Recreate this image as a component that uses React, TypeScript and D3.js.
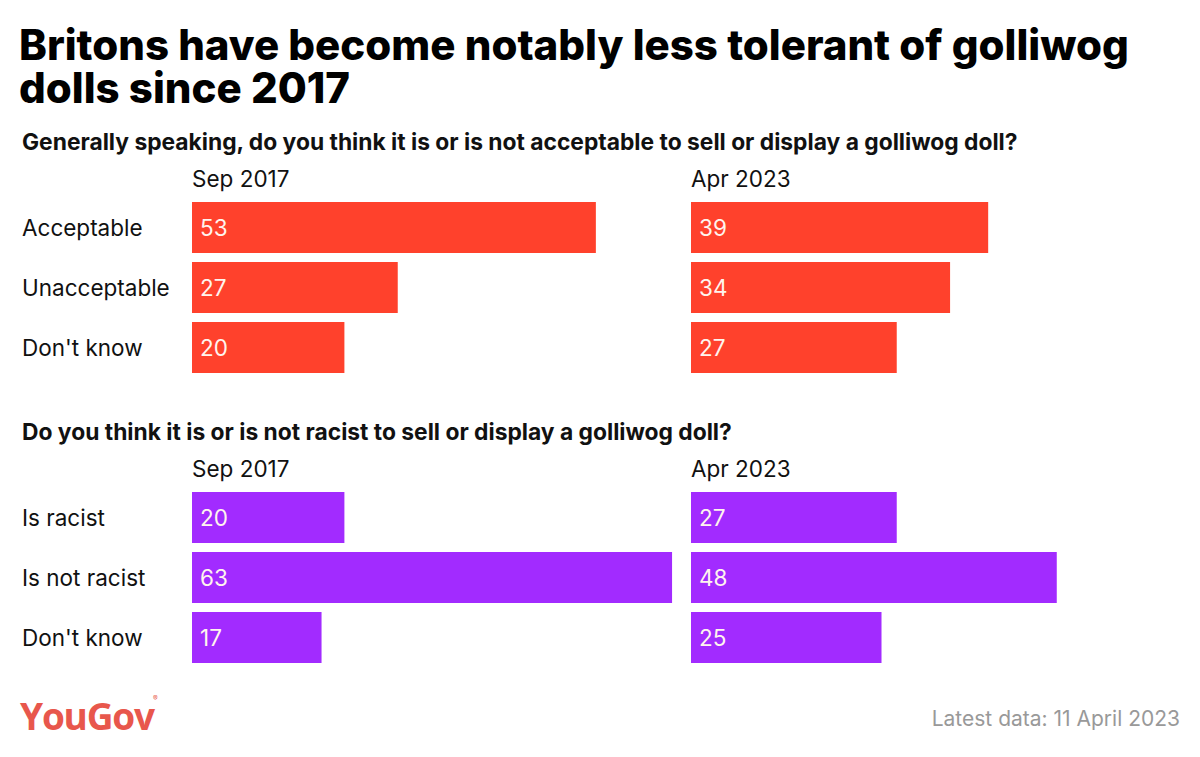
import React from "react";
import * as d3 from "d3";

const categoriesA = ["Acceptable", "Unacceptable", "Don't know"];
const sep2017A = [53, 27, 20];
const apr2023A = [39, 34, 27];
const categoriesB = ["Is racist", "Is not racist", "Don't know"];
const sep2017B = [20, 63, 17];
const apr2023B = [27, 48, 25];
const periods = ["Sep 2017", "Apr 2023"];

const title1 = "Britons have become notably less tolerant of golliwog";
const title2 = "dolls since 2017";
const subtitleA = "Generally speaking, do you think it is or is not acceptable to sell or display a golliwog doll?";
const subtitleB = "Do you think it is or is not racist to sell or display a golliwog doll?";
const footer = "Latest data: 11 April 2023";

const RED = "#FF412C";
const PURPLE = "#A22BFF";
const FONT = "Inter, 'Open Sans', sans-serif";

const x = d3.scaleLinear().domain([0, 100]).range([0, 762]);
const panelX = d3.scaleOrdinal<string, number>().domain(periods).range([192, 691]);

function Block({ top, subtitle, cats, vals, color }: { top: number; subtitle: string; cats: string[]; vals: number[][]; color: string }) {
  const y = d3.scaleBand().domain(cats).range([top + 47.5, top + 227.5]).paddingInner(0.15).paddingOuter(0.075);
  return (
    <g>
      <text x={22} y={top} fontFamily={FONT} fontWeight={700} fontSize={22.8} fill="#111">{subtitle}</text>
      {periods.map((p) => (
        <text key={p} x={panelX(p)} y={top + 37} fontFamily={FONT} fontSize={22.5} fill="#111">{p}</text>
      ))}
      {cats.map((c) => (
        <text key={c} x={22} y={(y(c) as number) + y.bandwidth() / 2 + 8} fontFamily={FONT} fontSize={22.5} fill="#111">{c}</text>
      ))}
      {periods.map((p, pi) =>
        cats.map((c, ci) => (
          <g key={p + c}>
            <rect x={panelX(p)} y={y(c)} width={x(vals[pi][ci])} height={y.bandwidth()} fill={color} />
            <text x={panelX(p) + 8} y={(y(c) as number) + y.bandwidth() / 2 + 8} fontFamily={FONT} fontSize={22.5} fill="#FFF4EE">{vals[pi][ci]}</text>
          </g>
        ))
      )}
    </g>
  );
}

export default function App() {
  return (
    <svg width={1200} height={757} style={{ position: "absolute", left: 0, top: 0, background: "#fff" }}>
      <rect width={1200} height={757} fill="#fff" />
      <text fontFamily={FONT} fontWeight={800} fontSize={42} fill="#000">
        <tspan x={19} y={60}>{title1}</tspan>
        <tspan x={19} y={103}>{title2}</tspan>
      </text>
      <Block top={150} subtitle={subtitleA} cats={categoriesA} vals={[sep2017A, apr2023A]} color={RED} />
      <Block top={440} subtitle={subtitleB} cats={categoriesB} vals={[sep2017B, apr2023B]} color={PURPLE} />
      <text x={20} y={730} fontFamily="'Open Sans', Inter, sans-serif" fontWeight={700} fontSize={37} fill="#E8574C" letterSpacing={-1.2}>YouGov</text>
      <text x={153} y={701} fontFamily={FONT} fontSize={7} fill="#E8574C">®</text>
      <text x={1180} y={726} textAnchor="end" fontFamily={FONT} fontSize={21} fill="#999">{footer}</text>
    </svg>
  );
}
